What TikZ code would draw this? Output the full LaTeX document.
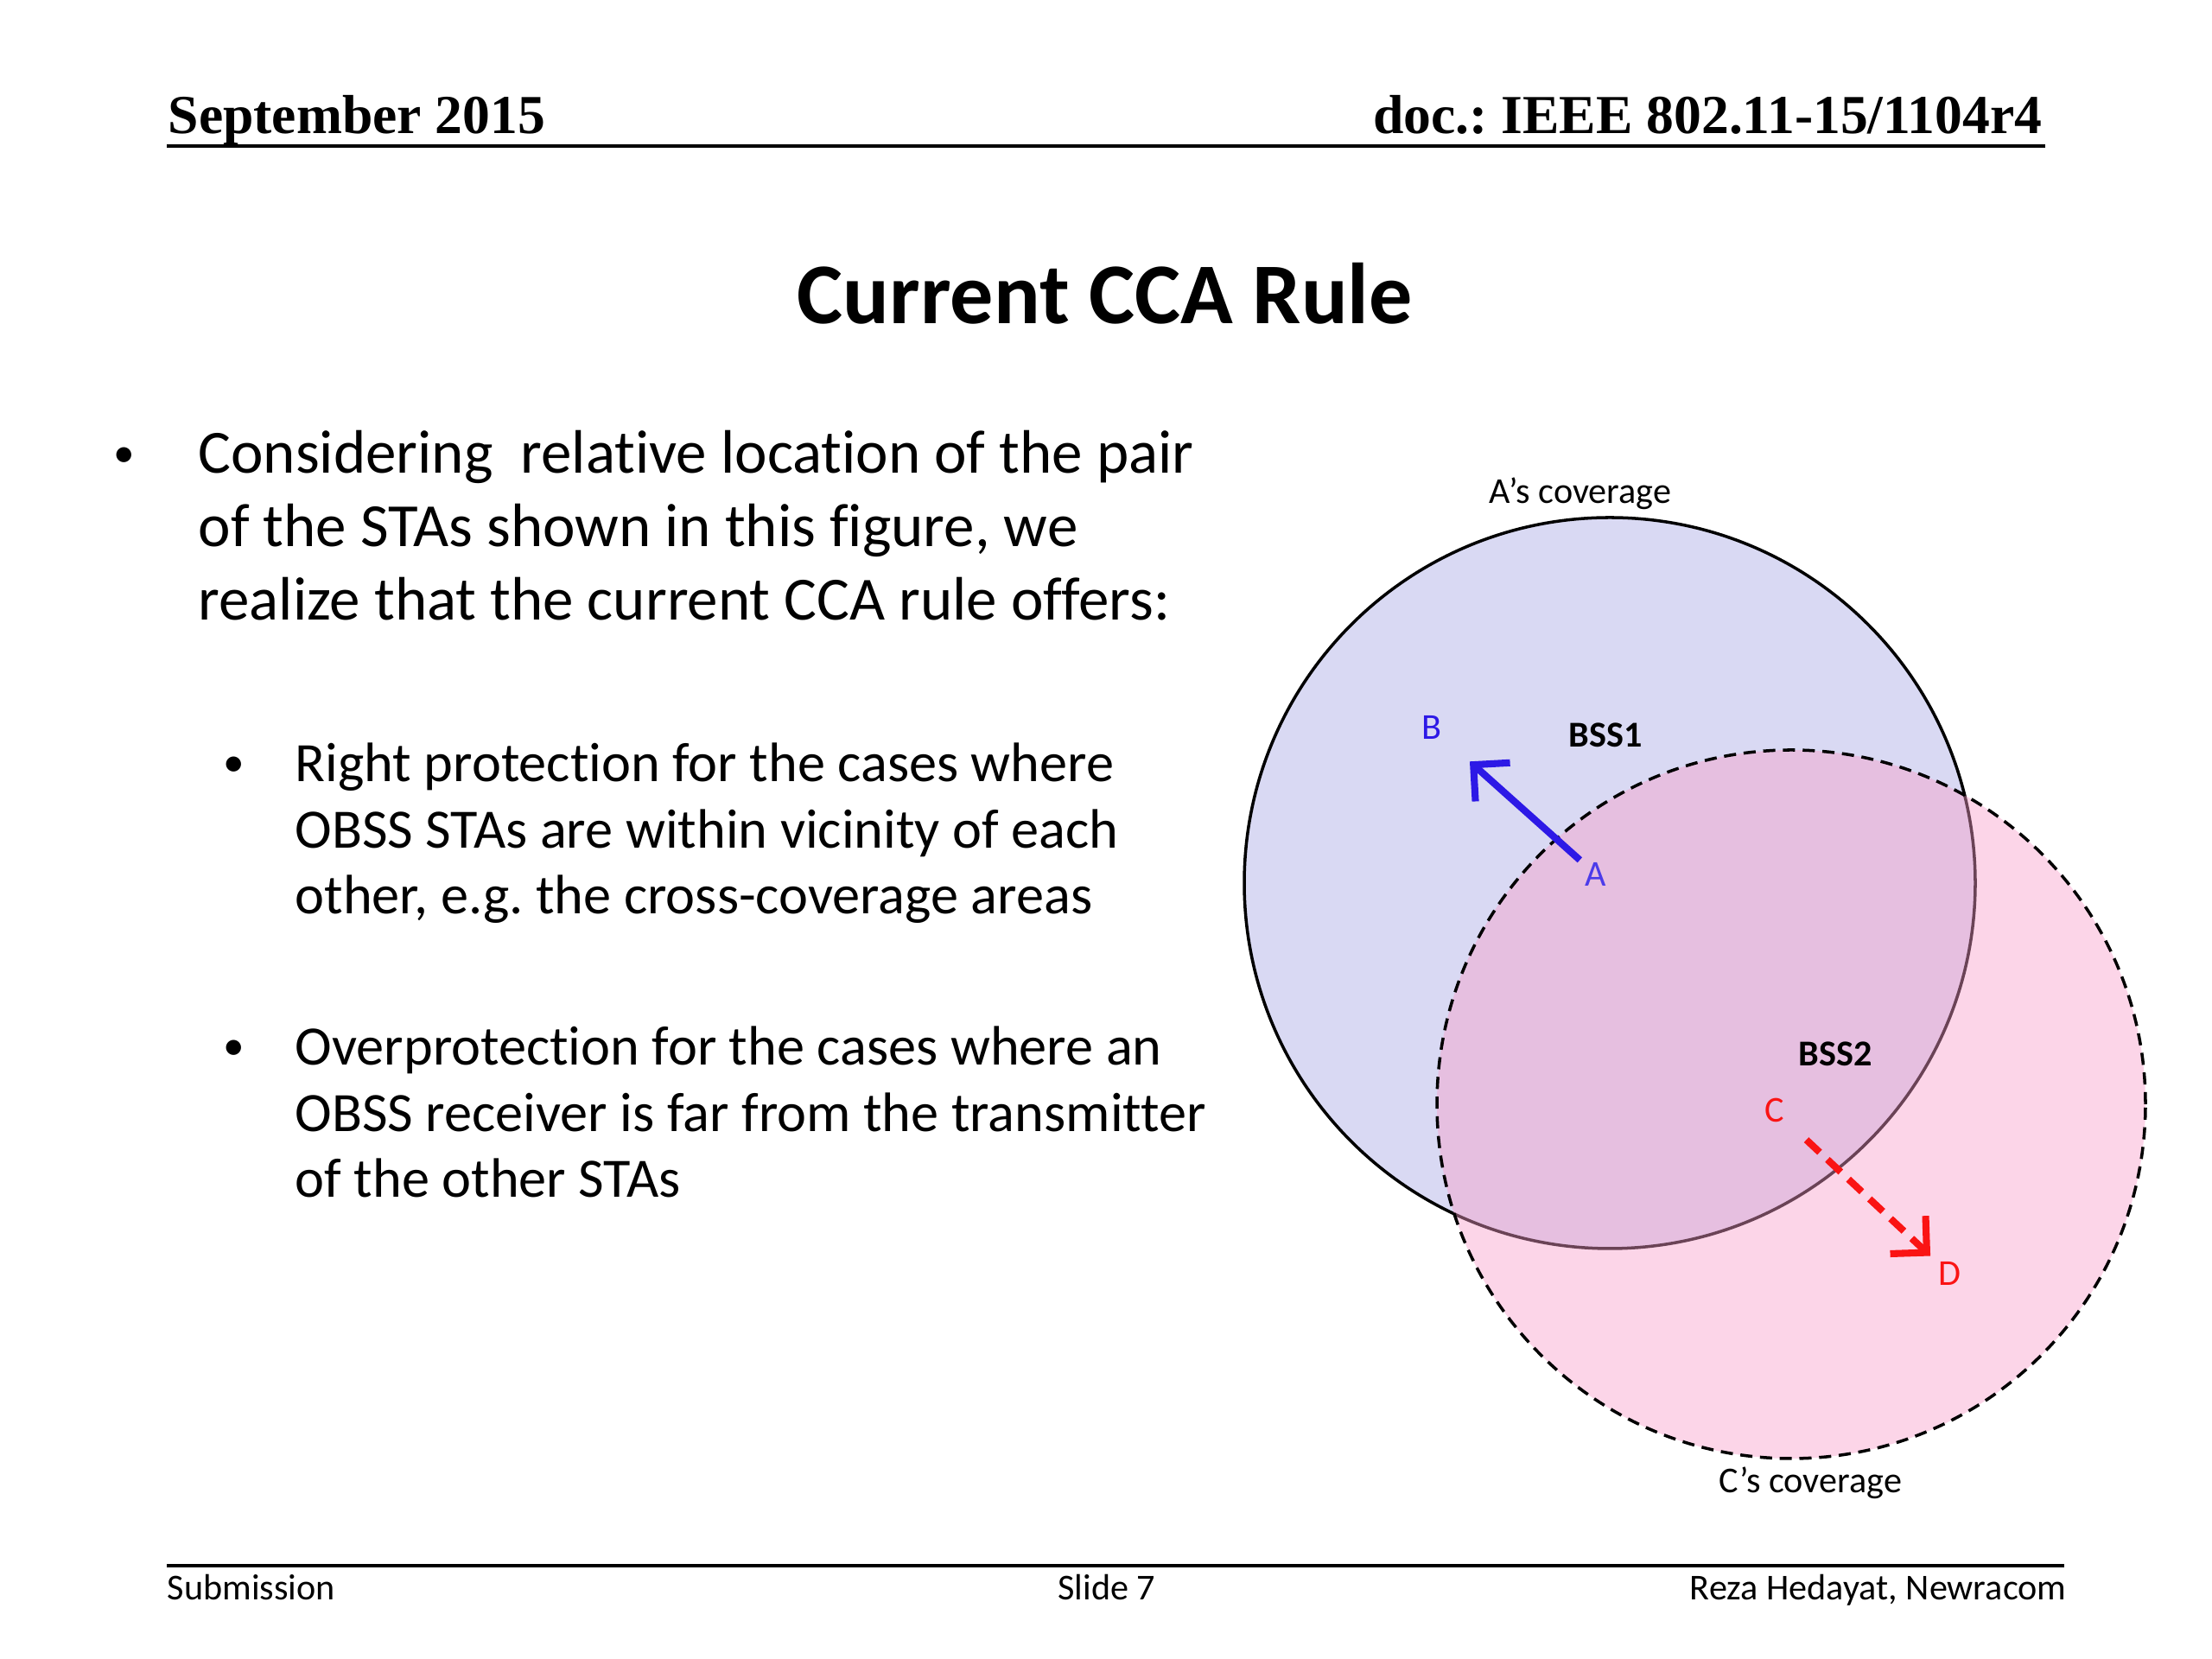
\documentclass[tikz,border=0pt]{standalone}
\usepackage{fontspec}
\setmainfont{Carlito}[Ligatures=NoCommon]
\newfontfamily\hdrfont{Liberation Serif}
\usetikzlibrary{arrows.meta}
\frenchspacing

\definecolor{covA}{RGB}{217,217,243}
\definecolor{covC}{RGB}{248,157,201}
\definecolor{staBlue}{RGB}{45,25,230}
\definecolor{staRed}{RGB}{250,20,20}

\tikzset{
  hdr/.style={inner sep=0pt, font=\hdrfont\bfseries\fontsize{18.1}{22}\selectfont},
  ftr/.style={inner sep=0pt, font=\fontsize{12}{14}\selectfont},
  body/.style={inner sep=0pt, anchor=base west, font=\fontsize{20.2}{24}\selectfont},
  subbody/.style={inner sep=0pt, anchor=base west, font=\fontsize{18.3}{22}\selectfont},
  dotmark/.style={inner sep=0pt, anchor=base, font=\fontsize{14}{16}\selectfont},
  lbl/.style={inner sep=0pt, font=\fontsize{12}{14}\selectfont},
  bsslbl/.style={inner sep=0pt, font=\fontsize{12}{14}\selectfont\bfseries},
  link/.style={line width=2.3pt, -{Straight Barb[length=3mm,width=6mm]}},
}

\begin{document}
\begin{tikzpicture}
    \useasboundingbox (0,0) rectangle (25.6,19.2);
    % header / footer
    \node[hdr, anchor=base west] (month) at (1.94,17.65) {September 2015};
    \node[hdr, anchor=base east] (docno) at (23.64,17.65) {doc.: IEEE 802.11-15/1104r4};
    \draw[line width=1pt] (1.93,17.51)--(23.67,17.51);
    \draw[line width=1pt] (1.93,1.08)--(23.89,1.08);
    \node[ftr, anchor=base west] (subm) at (1.93,0.68) {Submission};
    \node[ftr, anchor=base] (slide) at (12.81,0.68) {Slide 7};
    \node[ftr, anchor=base east] (author) at (23.92,0.68) {Reza Hedayat, Newracom};

    \node[inner sep=0pt, anchor=base, font=\fontsize{28.5}{34}\selectfont\bfseries] (title) at (12.79,15.45) {Current CCA Rule};

    % bullet text
    \node[dotmark] (dot0) at (1.44,13.79) {•};
    \foreach \Txt [count=\i] in {{Considering~ relative location of the pair}, {of the STAs shown in this figure, we}, {realize that the current CCA rule offers:}}{
        \node[body] (main\i) at (2.29,14.57-0.85*\i) {\Txt};
    }
    \node[dotmark] (dot1) at (2.71,10.21) {•};
    \foreach \Txt [count=\i] in {{Right protection for the cases where}, {OBSS STAs are within vicinity of each}, {other, e.g. the cross-coverage areas}}{
        \node[subbody] (subA\i) at (3.41,10.915-0.765*\i) {\Txt};
    }
    \node[dotmark] (dot2) at (2.71,6.93) {•};
    \foreach \Txt [count=\i] in {{Overprotection for the cases where an}, {OBSS receiver is far from the transmitter}, {of the other STAs}}{
        \node[subbody] (subB\i) at (3.41,7.635-0.765*\i) {\Txt};
    }

    % coverage areas
    \path[fill=covA] (18.63,8.98) circle (4.23);
    \draw[line width=1pt] (18.63,8.98) circle (4.23);
    \path[fill=covC, fill opacity=0.43] (20.73,6.42) circle (4.10);
    \draw[line width=1pt, dash pattern=on 4pt off 2.5pt] (20.73,6.42) circle (4.10);

    \node[lbl] (covA) at (18.29,13.49) {A’s coverage};
    \node[lbl] (covC) at (20.95,2.04) {C’s coverage};
    \node[bsslbl] (bss1) at (18.58,10.69) {BSS1};
    \node[bsslbl] (bss2) at (21.24,7.00) {BSS2};
    \node[lbl, text=staBlue] (B) at (16.57,10.78) {B};
    \node[lbl, text=staBlue!85!white] (A) at (18.47,9.08) {A};
    \node[lbl, text=staRed] (C) at (20.54,6.35) {C};
    \node[lbl, text=staRed] (D) at (22.56,4.46) {D};

    \draw[link, staBlue, shorten <=0.25cm, shorten >=0.59cm] (A.center)--(B.center);
    \draw[link, staRed, dash pattern=on 6pt off 3.5pt, shorten <=0.5cm, shorten >=0.3cm] (C.center)--(D.center);
\end{tikzpicture}
\end{document}
